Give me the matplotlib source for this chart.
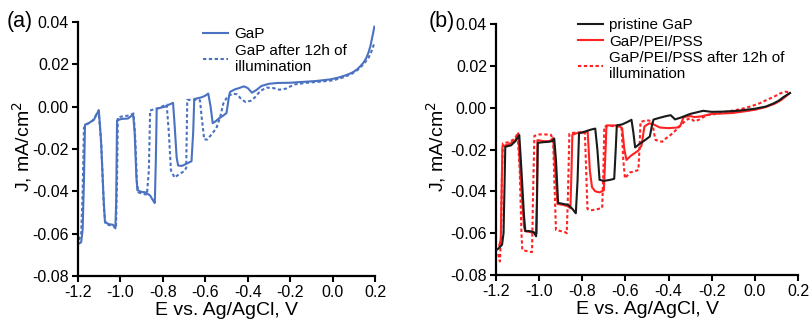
import matplotlib
matplotlib.use("Agg")
import matplotlib.pyplot as plt

plt.rcParams['font.family'] = ['Liberation Sans', 'DejaVu Sans']
plt.rcParams['axes.unicode_minus'] = False

# ---------------- data: panel (a) ----------------
a_gap_E = [-1.192, -1.185, -1.178, -1.172, -1.167, -1.150, -1.125, -1.102, -1.092, -1.080,
           -1.073, -1.055, -1.035, -1.024, -1.020, -1.016, -0.995, -0.965, -0.940, -0.933,
           -0.925, -0.920, -0.900, -0.880, -0.860, -0.845, -0.838, -0.833, -0.829, -0.810,
           -0.790, -0.770, -0.752, -0.745, -0.735, -0.728, -0.710, -0.690, -0.665, -0.657,
           -0.652, -0.635, -0.615, -0.600, -0.586, -0.575, -0.565, -0.550, -0.535, -0.515,
           -0.500, -0.488, -0.483, -0.460, -0.440, -0.418, -0.400, -0.380, -0.360, -0.335,
           -0.300, -0.260, -0.200, -0.140, -0.080, -0.010, 0.030, 0.067, 0.095, 0.114,
           0.130, 0.145, 0.158, 0.169, 0.178, 0.185, 0.192, 0.197]
a_gap_J = [-0.0645, -0.0640, -0.0580, -0.0350, -0.0085, -0.0078, -0.0062, -0.0016, -0.0150, -0.0420,
           -0.0545, -0.0555, -0.0558, -0.0575, -0.0450, -0.0065, -0.0058, -0.0056, -0.0038, -0.0120,
           -0.0330, -0.0395, -0.0403, -0.0405, -0.0420, -0.0445, -0.0455, -0.0250, -0.0010, -0.0005,
           0.0000, 0.0010, 0.0018, -0.0080, -0.0240, -0.0278, -0.0280, -0.0270, -0.0258, -0.0120,
           0.0036, 0.0040, 0.0045, 0.0052, 0.0062, 0.0000, -0.0078, -0.0068, -0.0055, -0.0042,
           -0.0030, 0.0050, 0.0070, 0.0082, 0.0088, 0.0096, 0.0088, 0.0066, 0.0078, 0.0098,
           0.0108, 0.0112, 0.0113, 0.0117, 0.0121, 0.0129, 0.0138, 0.0150, 0.0162, 0.0175,
           0.0190, 0.0207, 0.0228, 0.0255, 0.0285, 0.0318, 0.0352, 0.0378]

a_aged_E = [-1.195, -1.185, -1.178, -1.172, -1.160, -1.130, -1.103, -1.090, -1.078, -1.070,
            -1.050, -1.030, -1.021, -1.016, -1.012, -0.985, -0.960, -0.938, -0.930, -0.922,
            -0.915, -0.895, -0.875, -0.866, -0.860, -0.840, -0.815, -0.795, -0.782, -0.772,
            -0.762, -0.745, -0.725, -0.700, -0.690, -0.687, -0.685, -0.665, -0.640, -0.625,
            -0.617, -0.605, -0.590, -0.570, -0.548, -0.530, -0.515, -0.495, -0.470, -0.450,
            -0.430, -0.410, -0.385, -0.365, -0.340, -0.310, -0.280, -0.250, -0.220, -0.180,
            -0.120, -0.060, 0.000, 0.050, 0.090, 0.120, 0.150, 0.170, 0.185, 0.195]
a_aged_J = [-0.0630, -0.0600, -0.0400, -0.0100, -0.0085, -0.0065, -0.0020, -0.0180, -0.0480, -0.0555,
            -0.0560, -0.0565, -0.0575, -0.0350, -0.0050, -0.0045, -0.0042, -0.0032, -0.0150, -0.0360,
            -0.0405, -0.0412, -0.0415, -0.0300, -0.0018, -0.0012, -0.0005, 0.0005, 0.0010, -0.0120,
            -0.0300, -0.0335, -0.0320, -0.0305, -0.0290, -0.0100, 0.0032, 0.0032, 0.0033, 0.0030,
            -0.0050, -0.0155, -0.0155, -0.0130, -0.0102, -0.0050, 0.0015, 0.0048, 0.0062, 0.0058,
            0.0035, 0.0022, 0.0028, 0.0045, 0.0075, 0.0090, 0.0088, 0.0080, 0.0085, 0.0105,
            0.0113, 0.0118, 0.0124, 0.0138, 0.0155, 0.0175, 0.0205, 0.0232, 0.0265, 0.0295]

# ---------------- data: panel (b) ----------------
b_pristine_E = [-1.197, -1.185, -1.172, -1.165, -1.160, -1.157, -1.130, -1.110, -1.092, -1.082,
                -1.070, -1.064, -1.045, -1.025, -1.014, -1.010, -1.006, -0.980, -0.955, -0.940,
                -0.930, -0.922, -0.912, -0.890, -0.865, -0.845, -0.830, -0.822, -0.815, -0.790,
                -0.760, -0.740, -0.730, -0.720, -0.700, -0.670, -0.652, -0.645, -0.640, -0.615,
                -0.590, -0.572, -0.563, -0.555, -0.530, -0.505, -0.487, -0.478, -0.470, -0.440,
                -0.410, -0.390, -0.370, -0.345, -0.325, -0.300, -0.280, -0.240, -0.200, -0.150,
                -0.080, 0.000, 0.050, 0.086, 0.110, 0.132, 0.150, 0.163]
b_pristine_J = [-0.0680, -0.0670, -0.0655, -0.0600, -0.0350, -0.0187, -0.0180, -0.0160, -0.0131, -0.0300,
                -0.0520, -0.0590, -0.0590, -0.0595, -0.0615, -0.0450, -0.0168, -0.0165, -0.0163, -0.0160,
                -0.0148, -0.0250, -0.0455, -0.0460, -0.0465, -0.0485, -0.0505, -0.0350, -0.0122, -0.0115,
                -0.0105, -0.0100, -0.0200, -0.0345, -0.0350, -0.0345, -0.0340, -0.0200, -0.0085, -0.0080,
                -0.0068, -0.0058, -0.0120, -0.0190, -0.0170, -0.0152, -0.0138, -0.0090, -0.0057, -0.0048,
                -0.0040, -0.0036, -0.0056, -0.0048, -0.0040, -0.0030, -0.0025, -0.0015, -0.0020, -0.0019,
                -0.0015, -0.0005, 0.0005, 0.0020, 0.0033, 0.0050, 0.0062, 0.0070]

b_pei_E = [-1.185, -1.178, -1.174, -1.170, -1.140, -1.110, -1.097, -1.085, -1.070, -1.065,
           -1.040, -1.020, -1.012, -1.010, -1.008, -0.980, -0.950, -0.935, -0.925, -0.915,
           -0.890, -0.870, -0.855, -0.850, -0.846, -0.820, -0.795, -0.775, -0.765, -0.755,
           -0.740, -0.720, -0.700, -0.692, -0.688, -0.660, -0.630, -0.615, -0.605, -0.595,
           -0.575, -0.540, -0.525, -0.512, -0.490, -0.470, -0.440, -0.400, -0.360, -0.345,
           -0.330, -0.300, -0.280, -0.250, -0.200, -0.150, -0.100, -0.050, 0.000, 0.050,
           0.090, 0.120, 0.145, 0.162]
b_pei_J = [-0.0660, -0.0630, -0.0400, -0.0185, -0.0175, -0.0155, -0.0122, -0.0350, -0.0570, -0.0590,
           -0.0595, -0.0600, -0.0600, -0.0400, -0.0155, -0.0160, -0.0160, -0.0145, -0.0300, -0.0460,
           -0.0465, -0.0470, -0.0480, -0.0300, -0.0130, -0.0120, -0.0120, -0.0115, -0.0300, -0.0380,
           -0.0400, -0.0405, -0.0395, -0.0200, -0.0085, -0.0085, -0.0085, -0.0100, -0.0200, -0.0250,
           -0.0230, -0.0205, -0.0180, -0.0090, -0.0075, -0.0080, -0.0095, -0.0098, -0.0095, -0.0085,
           -0.0045, -0.0040, -0.0045, -0.0042, -0.0030, -0.0028, -0.0025, -0.0018, -0.0010, 0.0003,
           0.0018, 0.0035, 0.0055, 0.0070]

b_aged_E = [-1.190, -1.182, -1.176, -1.172, -1.168, -1.140, -1.115, -1.100, -1.090, -1.082,
            -1.078, -1.060, -1.040, -1.033, -1.028, -1.022, -1.000, -0.970, -0.945, -0.935,
            -0.928, -0.922, -0.900, -0.880, -0.872, -0.866, -0.860, -0.840, -0.810, -0.788,
            -0.782, -0.776, -0.755, -0.730, -0.708, -0.702, -0.698, -0.680, -0.660, -0.640,
            -0.618, -0.610, -0.602, -0.580, -0.560, -0.540, -0.535, -0.530, -0.500, -0.475,
            -0.468, -0.460, -0.430, -0.410, -0.390, -0.350, -0.320, -0.300, -0.280, -0.260,
            -0.220, -0.180, -0.130, -0.070, -0.022, 0.020, 0.055, 0.090, 0.117, 0.140, 0.155]
b_aged_J = [-0.0700, -0.0735, -0.0600, -0.0300, -0.0170, -0.0165, -0.0150, -0.0125, -0.0300, -0.0600,
            -0.0680, -0.0685, -0.0690, -0.0690, -0.0400, -0.0135, -0.0128, -0.0128, -0.0130, -0.0160,
            -0.0400, -0.0585, -0.0590, -0.0595, -0.0600, -0.0400, -0.0125, -0.0120, -0.0118, -0.0118,
            -0.0300, -0.0485, -0.0490, -0.0485, -0.0480, -0.0300, -0.0090, -0.0088, -0.0088, -0.0090,
            -0.0092, -0.0250, -0.0338, -0.0310, -0.0305, -0.0298, -0.0200, -0.0068, -0.0060, -0.0065,
            -0.0120, -0.0155, -0.0163, -0.0145, -0.0130, -0.0092, -0.0060, -0.0050, -0.0065, -0.0058,
            -0.0035, -0.0030, -0.0019, -0.0008, 0.0005, 0.0020, 0.0037, 0.0053, 0.0068, 0.0076, 0.0075]

x_ticks = [-1.2, -1.0, -0.8, -0.6, -0.4, -0.2, 0.0, 0.2]
y_ticks = [-0.08, -0.06, -0.04, -0.02, 0.00, 0.02, 0.04]
x_label = "E vs. Ag/AgCl, V"
y_label = "J, mA/cm$^2$"

blue = '#4a72c0'
red = '#ff2222'
black = '#1a1a1a'
dots = (0, (1.6, 1.2))

fig = plt.figure(figsize=(8.11, 3.22), dpi=100)
W, H = 811, 322
axA = fig.add_axes([78 / W, 1 - 276 / H, (375 - 78) / W, (276 - 22) / H])
axB = fig.add_axes([496 / W, 1 - 275 / H, (798 - 496) / W, (275 - 24) / H])


def style(ax, ylab_x, ylab_y):
    ax.set_xlim(-1.2, 0.2)
    ax.set_ylim(-0.08, 0.04)
    ax.set_xticks(x_ticks)
    ax.set_yticks(y_ticks)
    ax.set_xticklabels([f"{v:.1f}" for v in x_ticks])
    ax.set_yticklabels([f"{v:.2f}" for v in y_ticks])
    for s in ['top', 'right']:
        ax.spines[s].set_visible(False)
    for s in ['left', 'bottom']:
        ax.spines[s].set_linewidth(1.6)
    ax.tick_params(direction='out', length=4, width=1.5, labelsize=11.5, pad=2.5)
    ax.set_xlabel(x_label, fontsize=14, labelpad=1.5)
    ax.set_ylabel(y_label, fontsize=14)
    ax.yaxis.set_label_coords(ylab_x, ylab_y)
    ax.patch.set_alpha(0)


axA.plot(a_gap_E, a_gap_J, color=blue, lw=1.5, label='GaP')
axA.plot(a_aged_E, a_aged_J, color=blue, lw=1.5, ls=dots,
         label='GaP after 12h of\nillumination')
style(axA, -0.148, 0.508)
axA.legend(loc='upper left', bbox_to_anchor=(0.422, 0.979), frameon=False, fontsize=11,
           handlelength=1.6, handletextpad=0.45, borderpad=0, labelspacing=0.15,
           borderaxespad=0)
fig.text(7 / W, 1 - 22 / H, "(a)", fontsize=15.5, va='center', ha='left')

axB.plot(b_pristine_E, b_pristine_J, color=black, lw=1.5, label='pristine GaP', zorder=3)
axB.plot(b_pei_E, b_pei_J, color=red, lw=1.5, label='GaP/PEI/PSS', zorder=2)
axB.plot(b_aged_E, b_aged_J, color=red, lw=1.5, ls=dots,
         label='GaP/PEI/PSS after 12h of\nillumination', zorder=1)
style(axB, -0.158, 0.51)
axB.legend(loc='upper left', bbox_to_anchor=(0.272, 1.022), frameon=False, fontsize=11,
           handlelength=1.6, handletextpad=0.45, borderpad=0, labelspacing=0.15,
           borderaxespad=0)
fig.text(429 / W, 1 - 22 / H, "(b)", fontsize=15.5, va='center', ha='left')

fig.savefig("out.png", dpi=100)
